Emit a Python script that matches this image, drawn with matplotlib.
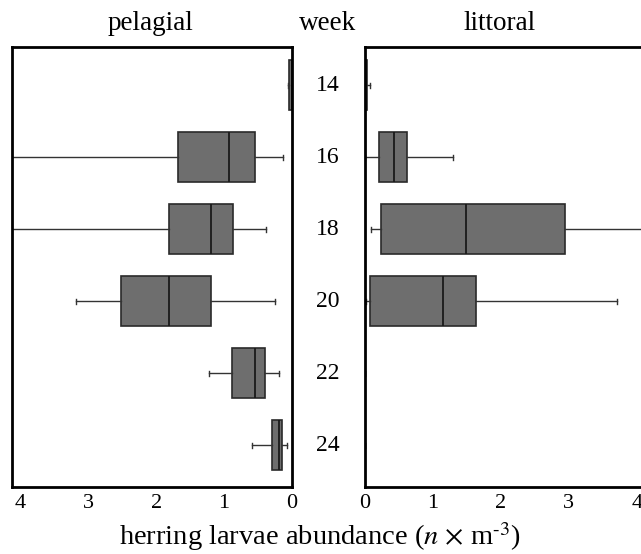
import matplotlib
matplotlib.use("Agg")
import matplotlib.pyplot as plt

weeks = ["14", "16", "18", "20", "22", "24"]

# pelagial: whisker low, q1, median, q3, whisker high
pel_whislo = [0.0, 0.13, 0.38, 0.25, 0.19, 0.07]
pel_q1     = [0.0, 0.54, 0.87, 1.19, 0.40, 0.15]
pel_med    = [0.0, 0.93, 1.19, 1.81, 0.54, 0.19]
pel_q3     = [0.04, 1.68, 1.81, 2.51, 0.88, 0.29]
pel_whishi = [0.06, 5.0, 5.0, 3.18, 1.22, 0.59]

# littoral
lit_whislo = [0.0, 0.0, 0.09, 0.02, 0.0, 0.0]
lit_q1     = [0.0, 0.21, 0.24, 0.08, 0.0, 0.0]
lit_med    = [0.0, 0.42, 1.49, 1.15, 0.0, 0.0]
lit_q3     = [0.03, 0.62, 2.94, 1.63, 0.0, 0.0]
lit_whishi = [0.07, 1.29, 5.0, 3.71, 0.0, 0.0]

xticks = [0, 1, 2, 3, 4]

plt.rcParams['font.family'] = ['Liberation Serif', 'DejaVu Serif']
plt.rcParams['mathtext.fontset'] = 'stix'

fig = plt.figure(figsize=(6.41, 5.54), dpi=100)
W, H = 641.0, 554.0
ax_l = fig.add_axes([12 / W, (H - 487) / H, 280 / W, 440 / H])
ax_r = fig.add_axes([365 / W, (H - 487) / H, 280 / W, 440 / H])


def stats(lo, q1, med, q3, hi):
    out = []
    for i in range(len(lo)):
        out.append(dict(whislo=lo[i], q1=q1[i], med=med[i], q3=q3[i],
                        whishi=hi[i], fliers=[], label=weeks[i]))
    return out


positions = list(range(len(weeks)))
box_kw = dict(positions=positions, vert=False, widths=0.69, patch_artist=True,
              showfliers=False, capwidths=0.07,
              boxprops=dict(facecolor="#6e6e6e", edgecolor="#2a2a2a", linewidth=1.2),
              medianprops=dict(color="#1a1a1a", linewidth=1.3),
              whiskerprops=dict(color="#333333", linewidth=1.0),
              capprops=dict(color="#333333", linewidth=1.0))

ax_l.bxp(stats(pel_whislo, pel_q1, pel_med, pel_q3, pel_whishi), **box_kw)
ax_r.bxp(stats(lit_whislo, lit_q1, lit_med, lit_q3, lit_whishi), **box_kw)

ax_l.set_xlim(4.12, 0)
ax_r.set_xlim(0, 4.12)
for ax in (ax_l, ax_r):
    ax.set_ylim(5.58, -0.53)
    ax.set_yticks([])
    ax.set_xticks(xticks)
    ax.set_xticklabels([str(t) for t in xticks], fontsize=16)
    ax.tick_params(axis="x", length=0, pad=5)
    for s in ax.spines.values():
        s.set_linewidth(2.0)
        s.set_color("black")

# week labels between the panels
for i, w in enumerate(weeks):
    y_disp = ax_l.transData.transform((0, positions[i]))[1]
    yf = fig.transFigure.inverted().transform((0, y_disp))[1]
    fig.text(328 / W, yf, w, ha="center", va="center", fontsize=17)

fig.text(150 / W, 1 - 23 / H, "pelagial", ha="center", va="center", fontsize=19.5)
fig.text(328 / W, 1 - 23 / H, "week", ha="center", va="center", fontsize=19.5)
fig.text(500 / W, 1 - 23 / H, "littoral", ha="center", va="center", fontsize=19.5)
fig.text(320 / W, 1 - 537 / H,
         r"herring larvae abundance ($n$ $\times$ m$^{\text{-3}}$)",
         ha="center", va="center", fontsize=20.5)

fig.savefig("out.png", dpi=100)
